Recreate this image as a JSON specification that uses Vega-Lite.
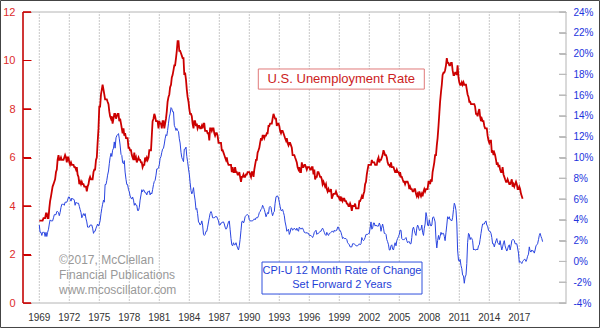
{
"$schema": "https://vega.github.io/schema/vega-lite/v6.json",
"width": 543, "height": 291,
"autosize": {"type": "none"},
"padding": {"left": 23, "top": 12, "right": 34, "bottom": 25},
"background": "white",
"config": {"view": {"stroke": null}, "font": "Liberation Sans"},
"data": {"values": [
{"t":1969,"u":3.4,"c":3.5},{"t":1969.08,"u":3.4,"c":2.8},{"t":1969.17,"u":3.4,"c":2.8},{"t":1969.25,"u":3.4,"c":2.5},{"t":1969.33,"u":3.4,"c":2.8},{"t":1969.42,"u":3.5,"c":2.8},{"t":1969.5,"u":3.5,"c":2.8},{"t":1969.58,"u":3.5,"c":2.4},{"t":1969.67,"u":3.7,"c":2.8},{"t":1969.75,"u":3.7,"c":2.4},{"t":1969.83,"u":3.5,"c":2.8},{"t":1969.92,"u":3.5,"c":3.1},
{"t":1970,"u":3.9,"c":3.6},{"t":1970.08,"u":4.2,"c":4.0},{"t":1970.17,"u":4.4,"c":3.9},{"t":1970.25,"u":4.6,"c":3.9},{"t":1970.33,"u":4.8,"c":3.9},{"t":1970.42,"u":4.9,"c":4.2},{"t":1970.5,"u":5.0,"c":4.5},{"t":1970.58,"u":5.1,"c":4.5},{"t":1970.67,"u":5.4,"c":4.5},{"t":1970.75,"u":5.5,"c":4.8},{"t":1970.83,"u":5.9,"c":4.8},{"t":1970.92,"u":6.1,"c":4.7},
{"t":1971,"u":5.9,"c":4.4},{"t":1971.08,"u":5.9,"c":4.7},{"t":1971.17,"u":6.0,"c":5.2},{"t":1971.25,"u":5.9,"c":5.5},{"t":1971.33,"u":5.9,"c":5.5},{"t":1971.42,"u":5.9,"c":5.5},{"t":1971.5,"u":6.0,"c":5.4},{"t":1971.58,"u":6.1,"c":5.7},{"t":1971.67,"u":6.0,"c":5.7},{"t":1971.75,"u":5.8,"c":5.7},{"t":1971.83,"u":6.0,"c":5.9},{"t":1971.92,"u":6.0,"c":6.2},
{"t":1972,"u":5.8,"c":6.2},{"t":1972.08,"u":5.7,"c":6.0},{"t":1972.17,"u":5.8,"c":5.8},{"t":1972.25,"u":5.7,"c":6.1},{"t":1972.33,"u":5.7,"c":6.0},{"t":1972.42,"u":5.7,"c":6.0},{"t":1972.5,"u":5.6,"c":5.9},{"t":1972.58,"u":5.6,"c":5.4},{"t":1972.67,"u":5.5,"c":5.7},{"t":1972.75,"u":5.6,"c":5.6},{"t":1972.83,"u":5.3,"c":5.6},{"t":1972.92,"u":5.2,"c":5.6},
{"t":1973,"u":4.9,"c":5.3},{"t":1973.08,"u":5.0,"c":5.0},{"t":1973.17,"u":4.9,"c":4.7},{"t":1973.25,"u":5.0,"c":4.2},{"t":1973.33,"u":4.9,"c":4.4},{"t":1973.42,"u":4.9,"c":4.6},{"t":1973.5,"u":4.8,"c":4.4},{"t":1973.58,"u":4.8,"c":4.6},{"t":1973.67,"u":4.8,"c":4.1},{"t":1973.75,"u":4.6,"c":3.8},{"t":1973.83,"u":4.8,"c":3.3},{"t":1973.92,"u":4.9,"c":3.3},
{"t":1974,"u":5.1,"c":3.3},{"t":1974.08,"u":5.2,"c":3.5},{"t":1974.17,"u":5.1,"c":3.5},{"t":1974.25,"u":5.1,"c":3.5},{"t":1974.33,"u":5.1,"c":3.2},{"t":1974.42,"u":5.4,"c":2.7},{"t":1974.5,"u":5.5,"c":2.9},{"t":1974.58,"u":5.5,"c":2.9},{"t":1974.67,"u":5.9,"c":3.2},{"t":1974.75,"u":6.0,"c":3.4},{"t":1974.83,"u":6.6,"c":3.6},{"t":1974.92,"u":7.2,"c":3.4},
{"t":1975,"u":8.1,"c":3.6},{"t":1975.08,"u":8.1,"c":3.9},{"t":1975.17,"u":8.6,"c":4.6},{"t":1975.25,"u":8.8,"c":5.1},{"t":1975.33,"u":9.0,"c":5.5},{"t":1975.42,"u":8.8,"c":5.9},{"t":1975.5,"u":8.6,"c":5.7},{"t":1975.58,"u":8.4,"c":7.4},{"t":1975.67,"u":8.4,"c":7.4},{"t":1975.75,"u":8.4,"c":7.8},{"t":1975.83,"u":8.3,"c":8.3},{"t":1975.92,"u":8.2,"c":8.7},
{"t":1976,"u":7.9,"c":9.4},{"t":1976.08,"u":7.7,"c":10.0},{"t":1976.17,"u":7.6,"c":10.4},{"t":1976.25,"u":7.7,"c":10.1},{"t":1976.33,"u":7.4,"c":10.7},{"t":1976.42,"u":7.6,"c":10.9},{"t":1976.5,"u":7.8,"c":11.5},{"t":1976.58,"u":7.8,"c":10.9},{"t":1976.67,"u":7.6,"c":11.9},{"t":1976.75,"u":7.7,"c":12.1},{"t":1976.83,"u":7.8,"c":12.2},{"t":1976.92,"u":7.8,"c":12.3},
{"t":1977,"u":7.5,"c":11.8},{"t":1977.08,"u":7.6,"c":11.2},{"t":1977.17,"u":7.4,"c":10.3},{"t":1977.25,"u":7.2,"c":10.2},{"t":1977.33,"u":7.0,"c":9.5},{"t":1977.42,"u":7.2,"c":9.4},{"t":1977.5,"u":6.9,"c":9.7},{"t":1977.58,"u":7.0,"c":8.6},{"t":1977.67,"u":6.8,"c":7.9},{"t":1977.75,"u":6.8,"c":7.4},{"t":1977.83,"u":6.8,"c":7.4},{"t":1977.92,"u":6.4,"c":6.9},
{"t":1978,"u":6.4,"c":6.7},{"t":1978.08,"u":6.3,"c":6.3},{"t":1978.17,"u":6.3,"c":6.1},{"t":1978.25,"u":6.1,"c":6.0},{"t":1978.33,"u":6.0,"c":6.2},{"t":1978.42,"u":5.9,"c":5.9},{"t":1978.5,"u":6.2,"c":5.4},{"t":1978.58,"u":5.9,"c":5.6},{"t":1978.67,"u":6.0,"c":5.4},{"t":1978.75,"u":5.8,"c":5.4},{"t":1978.83,"u":5.9,"c":4.9},{"t":1978.92,"u":6.0,"c":4.9},
{"t":1979,"u":5.9,"c":5.2},{"t":1979.08,"u":5.9,"c":5.9},{"t":1979.17,"u":5.8,"c":6.4},{"t":1979.25,"u":5.8,"c":6.9},{"t":1979.33,"u":5.6,"c":6.7},{"t":1979.42,"u":5.7,"c":6.9},{"t":1979.5,"u":5.7,"c":6.8},{"t":1979.58,"u":6.0,"c":6.6},{"t":1979.67,"u":5.9,"c":6.6},{"t":1979.75,"u":6.0,"c":6.4},{"t":1979.83,"u":5.9,"c":6.7},{"t":1979.92,"u":6.0,"c":6.7},
{"t":1980,"u":6.3,"c":6.8},{"t":1980.08,"u":6.3,"c":6.4},{"t":1980.17,"u":6.3,"c":6.6},{"t":1980.25,"u":6.9,"c":6.5},{"t":1980.33,"u":7.5,"c":6.9},{"t":1980.42,"u":7.6,"c":7.4},{"t":1980.5,"u":7.8,"c":7.7},{"t":1980.58,"u":7.7,"c":7.8},{"t":1980.67,"u":7.5,"c":8.3},{"t":1980.75,"u":7.5,"c":8.9},{"t":1980.83,"u":7.5,"c":8.9},{"t":1980.92,"u":7.2,"c":9.0},
{"t":1981,"u":7.5,"c":9.3},{"t":1981.08,"u":7.4,"c":9.9},{"t":1981.17,"u":7.4,"c":10.1},{"t":1981.25,"u":7.2,"c":10.5},{"t":1981.33,"u":7.5,"c":10.8},{"t":1981.42,"u":7.5,"c":10.9},{"t":1981.5,"u":7.2,"c":11.3},{"t":1981.58,"u":7.4,"c":11.8},{"t":1981.67,"u":7.6,"c":12.2},{"t":1981.75,"u":7.9,"c":12.1},{"t":1981.83,"u":8.3,"c":12.6},{"t":1981.92,"u":8.5,"c":13.3},
{"t":1982,"u":8.6,"c":13.9},{"t":1982.08,"u":8.9,"c":14.2},{"t":1982.17,"u":9.0,"c":14.8},{"t":1982.25,"u":9.3,"c":14.7},{"t":1982.33,"u":9.4,"c":14.4},{"t":1982.42,"u":9.6,"c":14.4},{"t":1982.5,"u":9.8,"c":13.1},{"t":1982.58,"u":9.8,"c":12.9},{"t":1982.67,"u":10.1,"c":12.6},{"t":1982.75,"u":10.4,"c":12.8},{"t":1982.83,"u":10.8,"c":12.6},{"t":1982.92,"u":10.8,"c":12.5},
{"t":1983,"u":10.4,"c":11.8},{"t":1983.08,"u":10.4,"c":11.4},{"t":1983.17,"u":10.3,"c":10.5},{"t":1983.25,"u":10.2,"c":10.0},{"t":1983.33,"u":10.1,"c":9.8},{"t":1983.42,"u":10.1,"c":9.6},{"t":1983.5,"u":9.4,"c":10.8},{"t":1983.58,"u":9.5,"c":10.8},{"t":1983.67,"u":9.2,"c":11.0},{"t":1983.75,"u":8.8,"c":10.1},{"t":1983.83,"u":8.5,"c":9.6},{"t":1983.92,"u":8.3,"c":8.9},
{"t":1984,"u":8.0,"c":8.4},{"t":1984.08,"u":7.8,"c":7.6},{"t":1984.17,"u":7.8,"c":6.8},{"t":1984.25,"u":7.7,"c":6.5},{"t":1984.33,"u":7.4,"c":6.7},{"t":1984.42,"u":7.2,"c":7.1},{"t":1984.5,"u":7.5,"c":6.4},{"t":1984.58,"u":7.5,"c":5.9},{"t":1984.67,"u":7.3,"c":5.0},{"t":1984.75,"u":7.4,"c":5.1},{"t":1984.83,"u":7.2,"c":4.6},{"t":1984.92,"u":7.3,"c":3.8},
{"t":1985,"u":7.3,"c":3.7},{"t":1985.08,"u":7.2,"c":3.5},{"t":1985.17,"u":7.2,"c":3.6},{"t":1985.25,"u":7.3,"c":3.9},{"t":1985.33,"u":7.2,"c":3.5},{"t":1985.42,"u":7.4,"c":2.6},{"t":1985.5,"u":7.4,"c":2.5},{"t":1985.58,"u":7.1,"c":2.6},{"t":1985.67,"u":7.1,"c":2.9},{"t":1985.75,"u":7.1,"c":2.9},{"t":1985.83,"u":7.0,"c":3.3},{"t":1985.92,"u":7.0,"c":3.8},
{"t":1986,"u":6.7,"c":4.2},{"t":1986.08,"u":7.2,"c":4.6},{"t":1986.17,"u":7.2,"c":4.8},{"t":1986.25,"u":7.1,"c":4.6},{"t":1986.33,"u":7.2,"c":4.2},{"t":1986.42,"u":7.2,"c":4.2},{"t":1986.5,"u":7.0,"c":4.2},{"t":1986.58,"u":6.9,"c":4.3},{"t":1986.67,"u":7.0,"c":4.3},{"t":1986.75,"u":7.0,"c":4.3},{"t":1986.83,"u":6.9,"c":4.1},{"t":1986.92,"u":6.6,"c":3.9},
{"t":1987,"u":6.6,"c":3.5},{"t":1987.08,"u":6.6,"c":3.5},{"t":1987.17,"u":6.6,"c":3.7},{"t":1987.25,"u":6.3,"c":3.7},{"t":1987.33,"u":6.3,"c":3.8},{"t":1987.42,"u":6.2,"c":3.8},{"t":1987.5,"u":6.1,"c":3.6},{"t":1987.58,"u":6.0,"c":3.3},{"t":1987.67,"u":5.9,"c":3.1},{"t":1987.75,"u":6.0,"c":3.2},{"t":1987.83,"u":5.8,"c":3.5},{"t":1987.92,"u":5.7,"c":3.8},
{"t":1988,"u":5.7,"c":3.9},{"t":1988.08,"u":5.7,"c":3.1},{"t":1988.17,"u":5.7,"c":2.2},{"t":1988.25,"u":5.4,"c":1.6},{"t":1988.33,"u":5.6,"c":1.5},{"t":1988.42,"u":5.4,"c":1.8},{"t":1988.5,"u":5.4,"c":1.6},{"t":1988.58,"u":5.6,"c":1.6},{"t":1988.67,"u":5.4,"c":1.8},{"t":1988.75,"u":5.4,"c":1.5},{"t":1988.83,"u":5.3,"c":1.3},{"t":1988.92,"u":5.3,"c":1.1},
{"t":1989,"u":5.4,"c":1.5},{"t":1989.08,"u":5.2,"c":2.1},{"t":1989.17,"u":5.0,"c":3.0},{"t":1989.25,"u":5.2,"c":3.8},{"t":1989.33,"u":5.2,"c":3.9},{"t":1989.42,"u":5.3,"c":3.7},{"t":1989.5,"u":5.2,"c":3.9},{"t":1989.58,"u":5.2,"c":4.3},{"t":1989.67,"u":5.3,"c":4.4},{"t":1989.75,"u":5.3,"c":4.5},{"t":1989.83,"u":5.4,"c":4.5},{"t":1989.92,"u":5.4,"c":4.4},
{"t":1990,"u":5.4,"c":4.0},{"t":1990.08,"u":5.3,"c":3.9},{"t":1990.17,"u":5.2,"c":3.9},{"t":1990.25,"u":5.4,"c":3.9},{"t":1990.33,"u":5.4,"c":3.9},{"t":1990.42,"u":5.2,"c":4.0},{"t":1990.5,"u":5.5,"c":4.1},{"t":1990.58,"u":5.7,"c":4.0},{"t":1990.67,"u":5.9,"c":4.2},{"t":1990.75,"u":5.9,"c":4.2},{"t":1990.83,"u":6.2,"c":4.2},{"t":1990.92,"u":6.3,"c":4.4},
{"t":1991,"u":6.4,"c":4.7},{"t":1991.08,"u":6.6,"c":4.8},{"t":1991.17,"u":6.8,"c":5.0},{"t":1991.25,"u":6.7,"c":5.1},{"t":1991.33,"u":6.9,"c":5.4},{"t":1991.42,"u":6.9,"c":5.2},{"t":1991.5,"u":6.8,"c":5.0},{"t":1991.58,"u":6.9,"c":4.7},{"t":1991.67,"u":6.9,"c":4.3},{"t":1991.75,"u":7.0,"c":4.5},{"t":1991.83,"u":7.0,"c":4.7},{"t":1991.92,"u":7.3,"c":4.6},
{"t":1992,"u":7.3,"c":5.2},{"t":1992.08,"u":7.4,"c":5.3},{"t":1992.17,"u":7.4,"c":5.2},{"t":1992.25,"u":7.4,"c":4.7},{"t":1992.33,"u":7.6,"c":4.4},{"t":1992.42,"u":7.8,"c":4.7},{"t":1992.5,"u":7.7,"c":4.8},{"t":1992.58,"u":7.6,"c":5.6},{"t":1992.67,"u":7.6,"c":6.2},{"t":1992.75,"u":7.3,"c":6.3},{"t":1992.83,"u":7.4,"c":6.3},{"t":1992.92,"u":7.4,"c":6.1},
{"t":1993,"u":7.3,"c":5.7},{"t":1993.08,"u":7.1,"c":5.3},{"t":1993.17,"u":7.0,"c":4.9},{"t":1993.25,"u":7.1,"c":4.9},{"t":1993.33,"u":7.1,"c":5.0},{"t":1993.42,"u":7.0,"c":4.7},{"t":1993.5,"u":6.9,"c":4.4},{"t":1993.58,"u":6.8,"c":3.8},{"t":1993.67,"u":6.7,"c":3.4},{"t":1993.75,"u":6.8,"c":2.9},{"t":1993.83,"u":6.6,"c":3.0},{"t":1993.92,"u":6.5,"c":3.1},
{"t":1994,"u":6.6,"c":2.6},{"t":1994.08,"u":6.6,"c":2.8},{"t":1994.17,"u":6.5,"c":3.2},{"t":1994.25,"u":6.4,"c":3.2},{"t":1994.33,"u":6.1,"c":3.0},{"t":1994.42,"u":6.1,"c":3.1},{"t":1994.5,"u":6.1,"c":3.2},{"t":1994.58,"u":6.0,"c":3.1},{"t":1994.67,"u":5.9,"c":3.0},{"t":1994.75,"u":5.8,"c":3.2},{"t":1994.83,"u":5.6,"c":3.0},{"t":1994.92,"u":5.5,"c":2.9},
{"t":1995,"u":5.6,"c":3.3},{"t":1995.08,"u":5.4,"c":3.2},{"t":1995.17,"u":5.4,"c":3.1},{"t":1995.25,"u":5.8,"c":3.2},{"t":1995.33,"u":5.6,"c":3.2},{"t":1995.42,"u":5.6,"c":3.0},{"t":1995.5,"u":5.7,"c":2.8},{"t":1995.58,"u":5.7,"c":2.8},{"t":1995.67,"u":5.6,"c":2.7},{"t":1995.75,"u":5.5,"c":2.8},{"t":1995.83,"u":5.6,"c":2.7},{"t":1995.92,"u":5.6,"c":2.7},
{"t":1996,"u":5.6,"c":2.5},{"t":1996.08,"u":5.5,"c":2.5},{"t":1996.17,"u":5.5,"c":2.5},{"t":1996.25,"u":5.6,"c":2.4},{"t":1996.33,"u":5.6,"c":2.3},{"t":1996.42,"u":5.3,"c":2.5},{"t":1996.5,"u":5.5,"c":2.8},{"t":1996.58,"u":5.1,"c":2.9},{"t":1996.67,"u":5.2,"c":3.0},{"t":1996.75,"u":5.2,"c":2.6},{"t":1996.83,"u":5.4,"c":2.7},{"t":1996.92,"u":5.4,"c":2.7},
{"t":1997,"u":5.3,"c":2.8},{"t":1997.08,"u":5.2,"c":2.9},{"t":1997.17,"u":5.2,"c":2.9},{"t":1997.25,"u":5.1,"c":3.1},{"t":1997.33,"u":4.9,"c":3.2},{"t":1997.42,"u":5.0,"c":3.0},{"t":1997.5,"u":4.9,"c":2.8},{"t":1997.58,"u":4.8,"c":2.6},{"t":1997.67,"u":4.9,"c":2.5},{"t":1997.75,"u":4.7,"c":2.8},{"t":1997.83,"u":4.6,"c":2.6},{"t":1997.92,"u":4.7,"c":2.5},
{"t":1998,"u":4.6,"c":2.7},{"t":1998.08,"u":4.6,"c":2.7},{"t":1998.17,"u":4.7,"c":2.8},{"t":1998.25,"u":4.3,"c":2.9},{"t":1998.33,"u":4.4,"c":2.9},{"t":1998.42,"u":4.5,"c":2.8},{"t":1998.5,"u":4.5,"c":3.0},{"t":1998.58,"u":4.5,"c":2.9},{"t":1998.67,"u":4.6,"c":3.0},{"t":1998.75,"u":4.5,"c":3.0},{"t":1998.83,"u":4.4,"c":3.3},{"t":1998.92,"u":4.4,"c":3.3},
{"t":1999,"u":4.3,"c":3.0},{"t":1999.08,"u":4.4,"c":3.0},{"t":1999.17,"u":4.2,"c":2.8},{"t":1999.25,"u":4.3,"c":2.5},{"t":1999.33,"u":4.2,"c":2.2},{"t":1999.42,"u":4.3,"c":2.3},{"t":1999.5,"u":4.3,"c":2.2},{"t":1999.58,"u":4.2,"c":2.2},{"t":1999.67,"u":4.2,"c":2.2},{"t":1999.75,"u":4.1,"c":2.1},{"t":1999.83,"u":4.1,"c":1.8},{"t":1999.92,"u":4.0,"c":1.7},
{"t":2000,"u":4.0,"c":1.6},{"t":2000.08,"u":4.1,"c":1.4},{"t":2000.17,"u":4.0,"c":1.4},{"t":2000.25,"u":3.8,"c":1.4},{"t":2000.33,"u":4.0,"c":1.7},{"t":2000.42,"u":4.0,"c":1.7},{"t":2000.5,"u":4.0,"c":1.7},{"t":2000.58,"u":4.1,"c":1.6},{"t":2000.67,"u":3.9,"c":1.5},{"t":2000.75,"u":3.9,"c":1.5},{"t":2000.83,"u":3.9,"c":1.5},{"t":2000.92,"u":3.9,"c":1.6},
{"t":2001,"u":4.2,"c":1.7},{"t":2001.08,"u":4.2,"c":1.6},{"t":2001.17,"u":4.3,"c":1.7},{"t":2001.25,"u":4.4,"c":2.3},{"t":2001.33,"u":4.3,"c":2.1},{"t":2001.42,"u":4.5,"c":2.0},{"t":2001.5,"u":4.6,"c":2.1},{"t":2001.58,"u":4.9,"c":2.3},{"t":2001.67,"u":5.0,"c":2.6},{"t":2001.75,"u":5.3,"c":2.6},{"t":2001.83,"u":5.5,"c":2.6},{"t":2001.92,"u":5.7,"c":2.7},
{"t":2002,"u":5.7,"c":2.7},{"t":2002.08,"u":5.7,"c":3.2},{"t":2002.17,"u":5.7,"c":3.8},{"t":2002.25,"u":5.9,"c":3.1},{"t":2002.33,"u":5.8,"c":3.2},{"t":2002.42,"u":5.8,"c":3.7},{"t":2002.5,"u":5.8,"c":3.7},{"t":2002.58,"u":5.7,"c":3.4},{"t":2002.67,"u":5.7,"c":3.5},{"t":2002.75,"u":5.7,"c":3.4},{"t":2002.83,"u":5.9,"c":3.4},{"t":2002.92,"u":6.0,"c":3.4},
{"t":2003,"u":5.8,"c":3.7},{"t":2003.08,"u":5.9,"c":3.5},{"t":2003.17,"u":5.9,"c":2.9},{"t":2003.25,"u":6.0,"c":3.3},{"t":2003.33,"u":6.1,"c":3.6},{"t":2003.42,"u":6.3,"c":3.2},{"t":2003.5,"u":6.2,"c":2.7},{"t":2003.58,"u":6.1,"c":2.7},{"t":2003.67,"u":6.1,"c":2.6},{"t":2003.75,"u":6.0,"c":2.1},{"t":2003.83,"u":5.8,"c":1.9},{"t":2003.92,"u":5.7,"c":1.6},
{"t":2004,"u":5.7,"c":1.1},{"t":2004.08,"u":5.6,"c":1.1},{"t":2004.17,"u":5.8,"c":1.5},{"t":2004.25,"u":5.6,"c":1.6},{"t":2004.33,"u":5.6,"c":1.2},{"t":2004.42,"u":5.6,"c":1.1},{"t":2004.5,"u":5.5,"c":1.5},{"t":2004.58,"u":5.4,"c":1.8},{"t":2004.67,"u":5.4,"c":1.5},{"t":2004.75,"u":5.5,"c":2.0},{"t":2004.83,"u":5.4,"c":2.2},{"t":2004.92,"u":5.4,"c":2.4},
{"t":2005,"u":5.3,"c":2.6},{"t":2005.08,"u":5.4,"c":3.0},{"t":2005.17,"u":5.2,"c":3.0},{"t":2005.25,"u":5.2,"c":2.2},{"t":2005.33,"u":5.1,"c":2.1},{"t":2005.42,"u":5.0,"c":2.1},{"t":2005.5,"u":5.0,"c":2.1},{"t":2005.58,"u":4.9,"c":2.2},{"t":2005.67,"u":5.0,"c":2.3},{"t":2005.75,"u":5.0,"c":2.0},{"t":2005.83,"u":5.0,"c":1.8},{"t":2005.92,"u":4.9,"c":1.9},
{"t":2006,"u":4.7,"c":1.9},{"t":2006.08,"u":4.8,"c":1.7},{"t":2006.17,"u":4.7,"c":1.7},{"t":2006.25,"u":4.7,"c":2.3},{"t":2006.33,"u":4.6,"c":3.1},{"t":2006.42,"u":4.6,"c":3.3},{"t":2006.5,"u":4.7,"c":3.0},{"t":2006.58,"u":4.7,"c":2.7},{"t":2006.67,"u":4.5,"c":2.5},{"t":2006.75,"u":4.4,"c":3.2},{"t":2006.83,"u":4.5,"c":3.5},{"t":2006.92,"u":4.4,"c":3.3},
{"t":2007,"u":4.6,"c":3.0},{"t":2007.08,"u":4.5,"c":3.0},{"t":2007.17,"u":4.4,"c":3.1},{"t":2007.25,"u":4.5,"c":3.5},{"t":2007.33,"u":4.4,"c":2.8},{"t":2007.42,"u":4.6,"c":2.5},{"t":2007.5,"u":4.7,"c":3.2},{"t":2007.58,"u":4.6,"c":3.6},{"t":2007.67,"u":4.7,"c":4.7},{"t":2007.75,"u":4.7,"c":4.3},{"t":2007.83,"u":4.7,"c":3.5},{"t":2007.92,"u":5.0,"c":3.4},
{"t":2008,"u":5.0,"c":4.0},{"t":2008.08,"u":4.9,"c":3.6},{"t":2008.17,"u":5.1,"c":3.4},{"t":2008.25,"u":5.0,"c":3.5},{"t":2008.33,"u":5.4,"c":4.2},{"t":2008.42,"u":5.6,"c":4.3},{"t":2008.5,"u":5.8,"c":4.1},{"t":2008.58,"u":6.1,"c":3.8},{"t":2008.67,"u":6.1,"c":2.1},{"t":2008.75,"u":6.5,"c":1.3},{"t":2008.83,"u":6.8,"c":2.0},{"t":2008.92,"u":7.3,"c":2.5},
{"t":2009,"u":7.8,"c":2.1},{"t":2009.08,"u":8.3,"c":2.4},{"t":2009.17,"u":8.7,"c":2.8},{"t":2009.25,"u":9.0,"c":2.6},{"t":2009.33,"u":9.4,"c":2.7},{"t":2009.42,"u":9.5,"c":2.7},{"t":2009.5,"u":9.5,"c":2.4},{"t":2009.58,"u":9.6,"c":2.0},{"t":2009.67,"u":9.8,"c":2.8},{"t":2009.75,"u":10.1,"c":3.5},{"t":2009.83,"u":9.9,"c":4.3},{"t":2009.92,"u":9.9,"c":4.1},
{"t":2010,"u":9.8,"c":4.3},{"t":2010.08,"u":9.8,"c":4.0},{"t":2010.17,"u":9.9,"c":4.0},{"t":2010.25,"u":9.9,"c":3.9},{"t":2010.33,"u":9.6,"c":4.2},{"t":2010.42,"u":9.4,"c":5.0},{"t":2010.5,"u":9.4,"c":5.6},{"t":2010.58,"u":9.5,"c":5.4},{"t":2010.67,"u":9.5,"c":4.9},{"t":2010.75,"u":9.4,"c":3.7},{"t":2010.83,"u":9.8,"c":1.1},{"t":2010.92,"u":9.3,"c":0.1},
{"t":2011,"u":9.1,"c":0.0},{"t":2011.08,"u":9.0,"c":0.2},{"t":2011.17,"u":9.0,"c":-0.4},{"t":2011.25,"u":9.1,"c":-0.7},{"t":2011.33,"u":9.0,"c":-1.3},{"t":2011.42,"u":9.1,"c":-1.4},{"t":2011.5,"u":9.0,"c":-2.1},{"t":2011.58,"u":9.0,"c":-1.5},{"t":2011.67,"u":9.0,"c":-1.3},{"t":2011.75,"u":8.8,"c":-0.2},{"t":2011.83,"u":8.6,"c":1.8},{"t":2011.92,"u":8.5,"c":2.7},
{"t":2012,"u":8.3,"c":2.6},{"t":2012.08,"u":8.3,"c":2.1},{"t":2012.17,"u":8.2,"c":2.3},{"t":2012.25,"u":8.2,"c":2.2},{"t":2012.33,"u":8.2,"c":2.0},{"t":2012.42,"u":8.2,"c":1.1},{"t":2012.5,"u":8.2,"c":1.2},{"t":2012.58,"u":8.1,"c":1.1},{"t":2012.67,"u":7.8,"c":1.1},{"t":2012.75,"u":7.8,"c":1.2},{"t":2012.83,"u":7.7,"c":1.1},{"t":2012.92,"u":7.9,"c":1.5},
{"t":2013,"u":8.0,"c":1.6},{"t":2013.08,"u":7.7,"c":2.1},{"t":2013.17,"u":7.5,"c":2.7},{"t":2013.25,"u":7.6,"c":3.2},{"t":2013.33,"u":7.5,"c":3.6},{"t":2013.42,"u":7.5,"c":3.6},{"t":2013.5,"u":7.3,"c":3.6},{"t":2013.58,"u":7.2,"c":3.8},{"t":2013.67,"u":7.2,"c":3.9},{"t":2013.75,"u":7.2,"c":3.5},{"t":2013.83,"u":6.9,"c":3.4},{"t":2013.92,"u":6.7,"c":3.0},
{"t":2014,"u":6.6,"c":2.9},{"t":2014.08,"u":6.7,"c":2.9},{"t":2014.17,"u":6.7,"c":2.7},{"t":2014.25,"u":6.2,"c":2.3},{"t":2014.33,"u":6.3,"c":1.7},{"t":2014.42,"u":6.1,"c":1.7},{"t":2014.5,"u":6.2,"c":1.4},{"t":2014.58,"u":6.1,"c":1.7},{"t":2014.67,"u":5.9,"c":2.0},{"t":2014.75,"u":5.7,"c":2.2},{"t":2014.83,"u":5.8,"c":1.8},{"t":2014.92,"u":5.6,"c":1.7},
{"t":2015,"u":5.7,"c":1.6},{"t":2015.08,"u":5.5,"c":2.0},{"t":2015.17,"u":5.4,"c":1.5},{"t":2015.25,"u":5.4,"c":1.1},{"t":2015.33,"u":5.6,"c":1.4},{"t":2015.42,"u":5.3,"c":1.8},{"t":2015.5,"u":5.2,"c":2.0},{"t":2015.58,"u":5.1,"c":1.5},{"t":2015.67,"u":5.0,"c":1.2},{"t":2015.75,"u":5.0,"c":1.0},{"t":2015.83,"u":5.1,"c":1.2},{"t":2015.92,"u":5.0,"c":1.5},
{"t":2016,"u":4.9,"c":1.6},{"t":2016.08,"u":4.9,"c":1.1},{"t":2016.17,"u":5.0,"c":1.5},{"t":2016.25,"u":5.1,"c":2.0},{"t":2016.33,"u":4.8,"c":2.1},{"t":2016.42,"u":4.9,"c":2.1},{"t":2016.5,"u":4.8,"c":2.0},{"t":2016.58,"u":4.9,"c":1.7},{"t":2016.67,"u":5.0,"c":1.7},{"t":2016.75,"u":4.9,"c":1.7},{"t":2016.83,"u":4.7,"c":1.3},{"t":2016.92,"u":4.7,"c":0.8},
{"t":2017,"u":4.8,"c":-0.1},{"t":2017.08,"u":4.7,"c":0.0},{"t":2017.17,"u":4.5,"c":-0.1},{"t":2017.25,"u":4.4,"c":-0.2},{"t":2017.33,"u":4.3,"c":0.0},{"t":2017.42,"c":0.1},{"t":2017.5,"c":0.2},{"t":2017.58,"c":0.2},{"t":2017.67,"c":0.0},{"t":2017.75,"c":0.2},{"t":2017.83,"c":0.5},{"t":2017.92,"c":0.7},
{"t":2018,"c":1.4},{"t":2018.08,"c":1.0},{"t":2018.17,"c":0.9},{"t":2018.25,"c":1.1},{"t":2018.33,"c":1.0},{"t":2018.42,"c":1.0},{"t":2018.5,"c":0.8},{"t":2018.58,"c":1.1},{"t":2018.67,"c":1.5},{"t":2018.75,"c":1.6},{"t":2018.83,"c":1.7},{"t":2018.92,"c":2.1},
{"t":2019,"c":2.5},{"t":2019.08,"c":2.7},{"t":2019.17,"c":2.4},{"t":2019.25,"c":2.2},{"t":2019.33,"c":1.9}
]},
"layer": [
  {"data": {"values": [{}]},
   "mark": {"type": "rect", "fill": "transparent", "stroke": "#b4b4b4", "strokeWidth": 1},
   "encoding": {"x": {"datum": 1967.37, "type": "quantitative", "scale": {"domain": [1967.37, 2021.67], "nice": false, "zero": false}, "axis": {"labels": false, "grid": false, "ticks": false, "domain": false, "title": null}},
                "x2": {"datum": 2021.67},
                "y": {"datum": 12, "type": "quantitative", "scale": {"domain": [0, 12], "nice": false}, "axis": null}, "y2": {"datum": 0}}},
  {"data": {"values": [{"g":1969},{"g":1972},{"g":1975},{"g":1978},{"g":1981},{"g":1984},{"g":1987},{"g":1990},{"g":1993},{"g":1996},{"g":1999},{"g":2002},{"g":2005},{"g":2008},{"g":2011},{"g":2014},{"g":2017}]},
   "layer": [
     {"mark": {"type": "rect", "fill": "transparent", "stroke": "#c8c8c8", "strokeWidth": 1, "strokeDash": [1, 2]},
      "encoding": {"x": {"field": "g", "type": "quantitative"}, "x2": {"field": "g"},
                   "y": {"datum": 12, "type": "quantitative", "scale": {"domain": [0, 12], "nice": false}, "axis": null}, "y2": {"datum": 0}}},
     {"mark": {"type": "text", "color": "#333333", "fontSize": 10, "font": "Liberation Sans", "align": "center", "baseline": "middle", "clip": false},
      "encoding": {"x": {"field": "g", "type": "quantitative"},
                   "y": {"datum": -0.62, "type": "quantitative", "scale": {"domain": [0, 12], "nice": false}, "axis": null},
                   "text": {"field": "g", "type": "quantitative", "format": "d"}}}
   ]},
  {"mark": {"type": "line", "color": "#cc0000", "strokeWidth": 1.8},
   "encoding": {
    "x": {"field": "t", "type": "quantitative", "scale": {"domain": [1967.37, 2021.67], "nice": false, "zero": false}},
    "y": {"field": "u", "type": "quantitative", "scale": {"domain": [0, 12], "nice": false},
          "axis": {"values": [0,2,4,6,8,10,12], "title": null, "grid": false, "domain": false, "ticks": true, "tickColor": "#cc0000", "tickSize": -8, "labelColor": "#dd2b2b", "labelFontSize": 11, "labelPadding": 16, "labelFont": "Liberation Sans"}}
   }},
  {"data": {"values": [{}]},
   "mark": {"type": "rect", "fill": "transparent", "stroke": "#cc0000", "strokeWidth": 1},
   "encoding": {"x": {"datum": 1967.37, "type": "quantitative"}, "x2": {"datum": 1967.37},
                "y": {"datum": 12, "type": "quantitative", "scale": {"domain": [0, 12], "nice": false}, "axis": null}, "y2": {"datum": 0}}},
  {"data": {"values": [{"v":0},{"v":2},{"v":4},{"v":6},{"v":8},{"v":10},{"v":12}]},
   "mark": {"type": "rect", "fill": "transparent", "stroke": "#cc0000", "strokeWidth": 1},
   "encoding": {"x": {"datum": 1967.37, "type": "quantitative"}, "x2": {"datum": 1968.17},
                "y": {"field": "v", "type": "quantitative", "scale": {"domain": [0, 12], "nice": false}, "axis": null}, "y2": {"field": "v"}}},
  {"data": {"values": [{}]},
   "mark": {"type": "rect", "fill": "white", "stroke": "#e07a7a", "strokeWidth": 1},
   "encoding": {"x": {"datum": 1990.9, "type": "quantitative"}, "x2": {"datum": 2007.5},
                "y": {"datum": 9.65, "type": "quantitative", "scale": {"domain": [0, 12], "nice": false}, "axis": null}, "y2": {"datum": 8.82}}},
  {"data": {"values": [{}]},
   "mark": {"type": "text", "color": "#cc2222", "fontSize": 13, "font": "Liberation Sans", "align": "center", "baseline": "middle"},
   "encoding": {"x": {"datum": 1999.2, "type": "quantitative"},
                "y": {"datum": 9.24, "type": "quantitative", "scale": {"domain": [0, 12], "nice": false}, "axis": null},
                "text": {"value": "U.S. Unemployment Rate"}}},
  {"data": {"values": [{}]},
   "mark": {"type": "rect", "fill": "white", "stroke": "#3050dd", "strokeWidth": 1},
   "encoding": {"x": {"datum": 1991.27, "type": "quantitative"}, "x2": {"datum": 2007.27},
                "y": {"datum": 1.69, "type": "quantitative", "scale": {"domain": [0, 12], "nice": false}, "axis": null}, "y2": {"datum": 0.37}}},
  {"data": {"values": [{}]},
   "mark": {"type": "text", "color": "#1f3fd6", "fontSize": 11, "font": "Liberation Sans", "align": "center", "baseline": "middle", "lineHeight": 14},
   "encoding": {"x": {"datum": 1999.27, "type": "quantitative"},
                "y": {"datum": 1.32, "type": "quantitative", "scale": {"domain": [0, 12], "nice": false}, "axis": null},
                "text": {"value": ["CPI-U 12 Month Rate of Change", "Set Forward 2 Years"]}}},
  {"data": {"values": [{}]},
   "mark": {"type": "text", "color": "#999999", "fontSize": 12, "font": "Liberation Sans", "align": "left", "baseline": "middle", "lineHeight": 15},
   "encoding": {"x": {"datum": 1970.97, "type": "quantitative"},
                "y": {"datum": 1.77, "type": "quantitative", "scale": {"domain": [0, 12], "nice": false}, "axis": null},
                "text": {"value": ["©2017, McClellan", "Financial Publications", "www.mcoscillator.com"]}}},
  {"data": {"values": [{}]},
   "mark": {"type": "rect", "fill": "transparent", "stroke": "#444444", "strokeWidth": 1, "clip": false},
   "encoding": {"x": {"datum": 1965.12, "type": "quantitative"}, "x2": {"datum": 2025.02},
                "y": {"datum": 12.474, "type": "quantitative", "scale": {"domain": [0, 12], "nice": false}, "axis": null}, "y2": {"datum": -1.01}}},
  {"data": {"values": [{"v":-4},{"v":-2},{"v":0},{"v":2},{"v":4},{"v":6},{"v":8},{"v":10},{"v":12},{"v":14},{"v":16},{"v":18},{"v":20},{"v":22},{"v":24}]},
   "mark": {"type": "rect", "fill": "transparent", "stroke": "#bbbbbb", "strokeWidth": 1},
   "encoding": {"x": {"datum": 2020.97, "type": "quantitative"}, "x2": {"datum": 2021.67},
                "y": {"field": "v", "type": "quantitative", "scale": {"domain": [-4, 24], "nice": false}, "axis": null}, "y2": {"field": "v"}}},
  {"mark": {"type": "line", "color": "#2a45e0", "strokeWidth": 1},
   "encoding": {
    "x": {"field": "t", "type": "quantitative", "scale": {"domain": [1967.37, 2021.67], "nice": false, "zero": false}},
    "y": {"field": "c", "type": "quantitative", "scale": {"domain": [-4, 24], "nice": false},
          "axis": {"orient": "right", "values": [-4,-2,0,2,4,6,8,10,12,14,16,18,20,22,24], "labelExpr": "datum.value + '%'", "title": null, "grid": false, "domain": false, "ticks": true, "tickColor": "#bbbbbb", "tickSize": -7, "labelColor": "#2233dd", "labelFontSize": 10, "labelPadding": 14, "labelFont": "Liberation Sans"}}
   }}
],
"resolve": {"scale": {"y": "independent"}}
}
